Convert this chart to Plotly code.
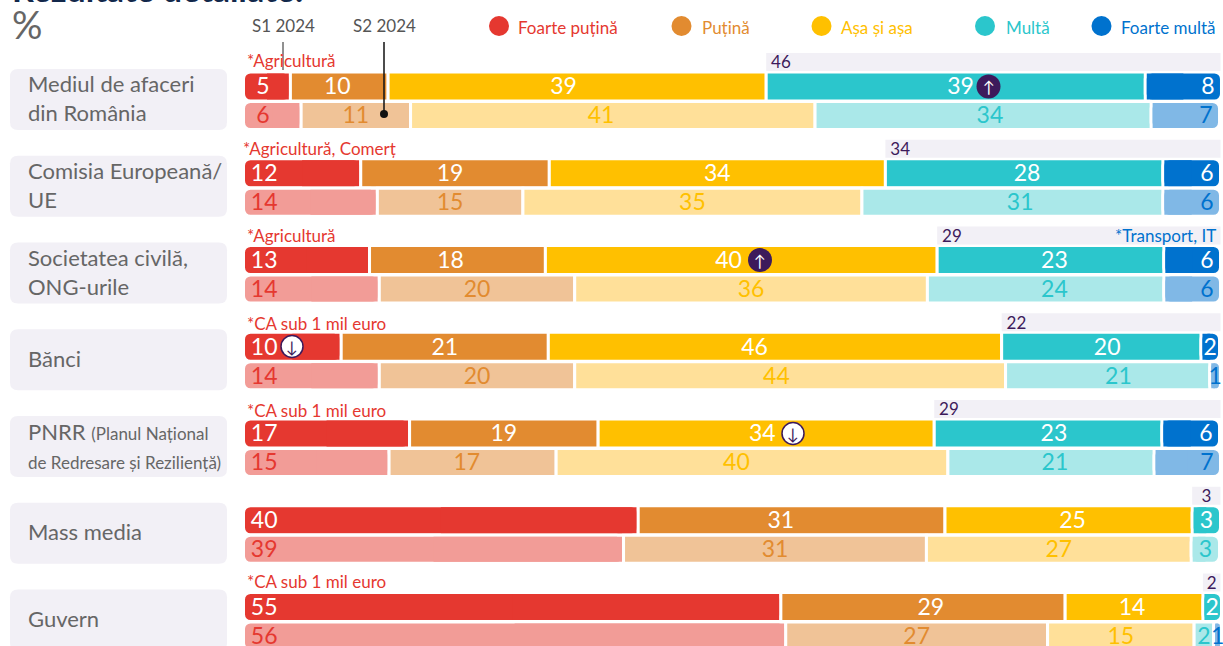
import plotly.graph_objects as go

FONT = "Lato, Roboto, sans-serif"

CATEGORIES = ["Mediul de afaceri<br>din România", "Comisia Europeană/<br>UE", "Societatea civilă,<br>ONG-urile", "Bănci",
              "PNRR <span style='font-size:17px'>(Planul Național</span><br><span style='font-size:17px'>de Redresare și Reziliență)</span>",
              "Mass media", "Guvern"]
SERIES = ["Foarte puțină", "Puțină", "Așa și așa", "Multă", "Foarte multă"]
COLORS = ["#E53830", "#E28B30", "#FFC000", "#2BC6CC", "#0072CE"]
LIGHT = ["#F29C97", "#F0C397", "#FFE099", "#AAE8E9", "#80B8E6"]
PERIODS = ["S1 2024", "S2 2024"]

S1_FOARTE_PUTINA = [4.8, 12.0, 12.9, 10.0, 17.0, 40.4, 55.0]
S1_PUTINA = [10.0, 19.3, 18.0, 21.2, 19.3, 31.4, 29.1]
S1_ASA = [38.7, 34.4, 40.1, 46.4, 34.4, 25.3, 14.1]
S1_MULTA = [38.8, 28.4, 23.2, 20.4, 23.3, 2.9, 1.9]
S1_FOARTE_MULTA = [7.8, 5.9, 5.8, 1.9, 5.9, None, None]

S2_FOARTE_PUTINA = [5.9, 13.7, 13.9, 13.9, 14.9, 38.9, 55.5]
S2_PUTINA = [11.2, 14.9, 20.0, 20.0, 17.1, 31.0, 26.8]
S2_ASA = [41.4, 34.7, 36.1, 44.1, 40.1, 27.1, 15.0]
S2_MULTA = [34.4, 30.8, 24.2, 20.9, 21.1, 2.9, 2.0]
S2_FOARTE_MULTA = [7.0, 5.9, 5.8, 1.1, 6.8, None, 0.8]

TOTAL_MULTA = [46, 34, 29, 22, 29, 3, 2]
NOTES_LEFT = ["*Agricultură", "*Agricultură, Comerț", "*Agricultură", "*CA sub 1 mil euro", "*CA sub 1 mil euro", "", "*CA sub 1 mil euro"]

S1 = [S1_FOARTE_PUTINA, S1_PUTINA, S1_ASA, S1_MULTA, S1_FOARTE_MULTA]
S2 = [S2_FOARTE_PUTINA, S2_PUTINA, S2_ASA, S2_MULTA, S2_FOARTE_MULTA]

W, H = 1223, 646
ROW = 86.75
TOP = 86.5
XZERO, XSCALE = 243.5, 9.77
GAP = 3
RADIUS = 7
ROWS = list(range(len(CATEGORIES)))
S2_OFF = 29 / ROW
TOT_OFF = -24.5 / ROW
TEXT_DROP = 2 / ROW
NOTE_Y = [61, 148, 235, 323, 410, 0, 581]
LABEL_SHIFT = [
    {(0, 1): -.2, (0, 2): -1.4, (0, 3): .5, (1, 1): -.5, (1, 3): .3, (2, 1): -.7, (2, 2): -1.3, (2, 3): .4,
     (3, 2): -2.1, (3, 3): .6, (4, 2): -.4, (4, 3): .6, (5, 1): -1.1, (5, 2): .4, (6, 1): .8, (6, 2): -.2},
    {(0, 2): -1.2, (0, 3): .7, (1, 3): .8, (2, 3): .9, (3, 2): -1.4, (3, 3): 1.1,
     (4, 1): -.6, (4, 2): -1.6, (4, 3): .4},
]


def px(x):
    return x / W


def py(y):
    return 1 - y / H


fig = go.Figure()


def segment(xs, bases, ys, hgt, fill, radius):
    if not xs:
        return
    fig.add_trace(go.Bar(
        orientation="h", x=xs, base=bases, y=ys, width=(hgt + GAP) / ROW,
        marker=dict(color=fill, line=dict(color="white", width=GAP), cornerradius=radius),
        hoverinfo="skip", showlegend=False,
    ))


def square_half(xs, bases, ys, hgt, fill):
    # plain patch that squares off the inner side of a rounded end segment
    if not xs:
        return
    fig.add_trace(go.Bar(
        orientation="h", x=xs, base=bases, y=ys, width=hgt / ROW,
        marker=dict(color=fill, line=dict(width=0)),
        hoverinfo="skip", showlegend=False,
    ))


INSET = (GAP / 2) / XSCALE

# first and last segments of a row are rounded; their inner sides are squared off again
for data, off, fills, hgt in [(S1, 0, COLORS, 26), (S2, S2_OFF, LIGHT, 25)]:
    for k, vals in enumerate(data):
        inner, end, patch = ([], [], []), ([], [], []), ([], [], [])
        for i in ROWS:
            v = vals[i]
            if v is None:
                continue
            start = sum(data[j][i] or 0 for j in range(k))
            last = all(data[j][i] is None for j in range(k + 1, len(data)))
            group = end if (last or k == 0) else inner
            group[0].append(v)
            group[1].append(start)
            group[2].append(i + off)
            if group is end:
                patch[0].append(v / 2 - INSET)
                patch[1].append(start + v / 2 if k == 0 else start + INSET)
                patch[2].append(i + off)
        segment(*inner, hgt, fills[k], 0)
        segment(*end, hgt, fills[k], RADIUS)
        square_half(*patch, hgt, fills[k])

# value labels, placed from the cumulative values
for p, (data, off) in enumerate([(S1, 0), (S2, S2_OFF)]):
    for k, vals in enumerate(data):
        xs, ys, ts, pos = [], [], [], []
        for i in ROWS:
            v = vals[i]
            if v is None:
                continue
            start = sum(data[j][i] or 0 for j in range(k))
            lbl = str(round(v))
            if k == 0:
                xs.append(start + (1.3 if len(lbl) == 1 else 0.75))
                pos.append("middle right")
            elif k == 4 and v > 3:
                xs.append(start + v - 0.7)
                pos.append("middle left")
            else:
                xs.append(start + v / 2 + LABEL_SHIFT[p].get((i, k), 0))
                pos.append("middle center")
            ys.append(i + off + TEXT_DROP)
            ts.append(lbl)
        fig.add_trace(go.Scatter(
            x=xs, y=ys, text=ts, mode="text", textposition=pos, cliponaxis=False,
            textfont=dict(family=FONT, size=23, color="white" if p == 0 else COLORS[k]),
            hoverinfo="skip", showlegend=False,
        ))

# grey "Multă + Foarte multă" bar above the S1 bar
spacer = [sum(S1[k][i] for k in range(3)) for i in ROWS]
tail = [100 - s for s in spacer]
fig.add_trace(go.Bar(orientation="h", x=tail, base=spacer, y=[r + TOT_OFF for r in ROWS], width=18 / ROW,
                     marker=dict(color="#F2F0F6", line=dict(width=0)),
                     hoverinfo="skip", showlegend=False))
fig.add_trace(go.Scatter(
    x=[s + (0.5 if t > 5 else (100 - s) / 2) for s, t in zip(spacer, TOTAL_MULTA)],
    y=[r + TOT_OFF + TEXT_DROP for r in ROWS], text=[str(t) for t in TOTAL_MULTA], mode="text",
    textposition=["middle right" if t > 5 else "middle center" for t in TOTAL_MULTA],
    textfont=dict(family=FONT, size=17, color="#3D1A5B"), hoverinfo="skip", showlegend=False,
))

shapes = []
ann = []


def text(x, y, s, size, color, anchor="left", bold=False):
    dx = {"left": -2, "right": 2, "center": 0}[anchor]
    ann.append(dict(xref="paper", yref="paper", x=px(x + dx), y=py(y), text=f"<b>{s}</b>" if bold else s,
                    showarrow=False, xanchor=anchor, yanchor="middle", align="left",
                    font=dict(family=FONT, size=size, color=color)))


def circle(x, y, r, fill, line=None):
    shapes.append(dict(type="circle", xref="paper", yref="paper", x0=px(x - r), x1=px(x + r),
                       y0=py(y + r), y1=py(y - r), fillcolor=fill,
                       line=dict(color=line or fill, width=1.5 if line else 0), layer="above"))


def rounded(x0, y0, x1, y1, r, fill):
    a, b, c, d = px(x0), px(x1), py(y0), py(y1)
    rx, ry = r / W, r / H
    path = (f"M {a+rx},{c} L {b-rx},{c} Q {b},{c} {b},{c-ry} L {b},{d+ry} Q {b},{d} {b-rx},{d} "
            f"L {a+rx},{d} Q {a},{d} {a},{d+ry} L {a},{c-ry} Q {a},{c} {a+rx},{c} Z")
    shapes.append(dict(type="path", xref="paper", yref="paper", path=path, fillcolor=fill,
                       line=dict(width=0), layer="below"))


# category plates and labels
for i, c in enumerate(CATEGORIES):
    yc = 99.5 + ROW * i
    rounded(10, yc - 30.5, 227, yc + 30.5, 8, "#F2F0F6")
    text(28, yc - 1.5, c, 22, "#666666")

# notes
for i, n in enumerate(NOTES_LEFT):
    if n:
        text(243 if "Comerț" in n else 247, NOTE_Y[i], n, 17, "#E53830")
text(1216, 235, "*Transport, IT", 17, "#0072CE", anchor="right")

# legend
for x, tx, s, col in zip([499, 681.5, 821.5, 985, 1101.5], [518, 701.5, 841, 1006, 1121], SERIES, COLORS):
    circle(x, 26, 10, col)
    text(tx, 27, s, 17, col)

# title fragment, unit and period key
text(12, -12, "Rezultate detaliate:", 34, "#12284B", bold=True)
text(12, 24, "%", 38, "#666666")
text(252, 25, PERIODS[0], 17, "#555555")
text(353, 25, PERIODS[1], 17, "#555555")
shapes.append(dict(type="line", xref="paper", yref="paper", x0=px(283), x1=px(283), y0=py(42), y1=py(70),
                   line=dict(color="#222222", width=1), layer="above"))
shapes.append(dict(type="line", xref="paper", yref="paper", x0=px(384), x1=px(384), y0=py(42), y1=py(114),
                   line=dict(color="#111111", width=1.5), layer="above"))
circle(384, 114, 4, "#111111")

# up / down badges
for x, y, up in [(988.5, 86.5, True), (760, 260, True), (292, 346.5, False), (793, 433.5, False)]:
    if up:
        circle(x, y, 12, "#3D1A5B")
        text(x, y, "↑", 16, "white", anchor="center")
    else:
        circle(x, y, 11, "white", "#3D1A5B")
        text(x, y, "↓", 16, "#3D1A5B", anchor="center")

fig.update_layout(
    width=W, height=H, autosize=False, barmode="overlay",
    margin=dict(l=0, r=0, t=0, b=0), paper_bgcolor="white", plot_bgcolor="white",
    xaxis=dict(range=[-XZERO / XSCALE, (W - XZERO) / XSCALE], visible=False, fixedrange=True),
    yaxis=dict(range=[(H - TOP) / ROW, -TOP / ROW], visible=False, fixedrange=True),
    shapes=shapes, annotations=ann, showlegend=False,
)
fig.write_html("out.html", config=dict(displayModeBar=False),
               post_script="document.body.style.margin='0';document.body.style.overflow='hidden';")
